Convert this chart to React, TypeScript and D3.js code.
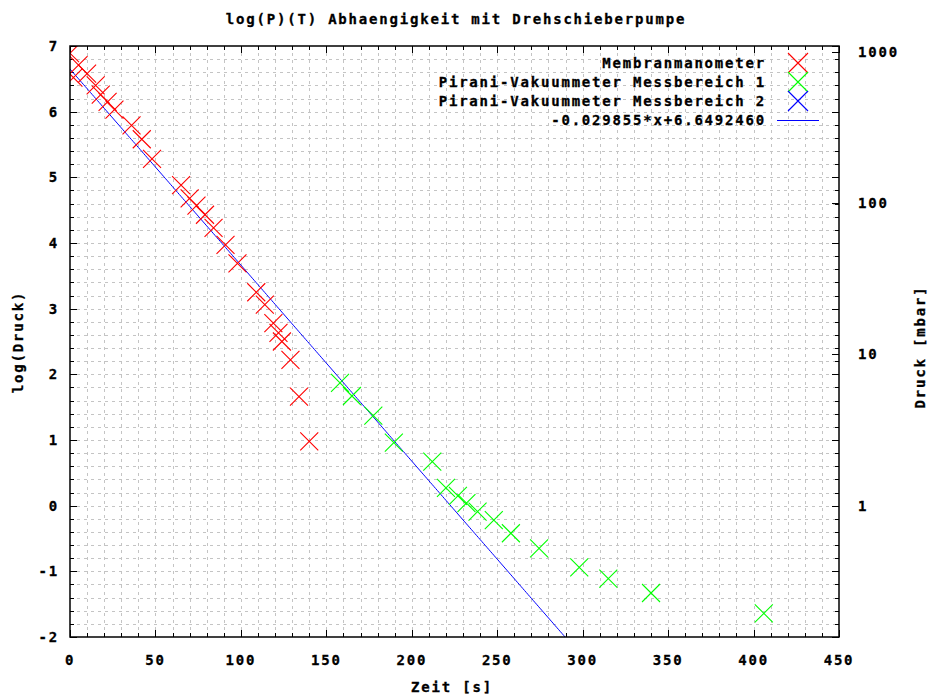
import React from "react";
import * as d3 from "d3";

const title = "log(P)(T) Abhaengigkeit mit Drehschieberpumpe";
const xLabel = "Zeit [s]";
const yLabel = "log(Druck)";
const y2Label = "Druck [mbar]";

const membranT = [0, 2, 5, 10, 15, 18, 22, 26, 36, 42, 48, 65, 70, 74, 79, 84, 91, 98, 109, 114, 119, 122, 124, 129, 134, 140];
const membranLogP = [6.89, 6.52, 6.71, 6.58, 6.4, 6.26, 6.15, 6.03, 5.79, 5.58, 5.28, 4.88, 4.68, 4.57, 4.43, 4.23, 3.97, 3.69, 3.25, 3.06, 2.78, 2.63, 2.5, 2.22, 1.66, 0.98];

const pirani1T = [158, 165, 177.5, 189.5, 212, 220, 227, 232, 238.5, 248, 258, 274.5, 298, 315, 340, 406];
const pirani1LogP = [1.87, 1.67, 1.37, 0.96, 0.67, 0.27, 0.15, 0.04, -0.09, -0.22, -0.42, -0.65, -0.94, -1.11, -1.33, -1.64];

const fitSlope = -0.029855;
const fitIntercept = 6.649246;
const fitLabel = "-0.029855*x+6.6492460";

const legendLabels = ["Membranmanometer", "Pirani-Vakuummeter Messbereich 1", "Pirani-Vakuummeter Messbereich 2", fitLabel];
const legendColors = ["#ff0000", "#00ff00", "#0000ff", "#0000ff"];

const xTicks = [0, 50, 100, 150, 200, 250, 300, 350, 400, 450];
const yTicks = [-2, -1, 0, 1, 2, 3, 4, 5, 6, 7];
const y2Ticks = [1, 10, 100, 1000];

const W = 932, H = 697;
const L = 70, R = 839, T = 46, B = 637;
const FONT = "'DejaVu Sans Mono', monospace";

export default function App() {
  const x = d3.scaleLinear().domain([0, 450]).range([L, R]);
  const y = d3.scaleLinear().domain([-2, 7]).range([B, T]);

  const xGrid = d3.range(10, 450, 10);
  const yGrid = d3.range(-1.8, 7, 0.2);
  const xMinor = d3.range(0, 451, 10);
  const yMinor = d3.range(-2, 7.001, 0.2);

  const xEnd = (-2 - fitIntercept) / fitSlope;
  const fitPts: [number, number][] = d3.range(0, xEnd, 1).map((t) => [t, fitSlope * t + fitIntercept]);
  fitPts.push([xEnd, -2]);
  const line = d3.line<[number, number]>().x((d) => x(d[0])).y((d) => y(d[1]));

  const cross = (cx: number, cy: number, color: string, key: string, s = 9) => (
    <path key={key} d={`M${cx - s},${cy - s}L${cx + s},${cy + s}M${cx - s},${cy + s}L${cx + s},${cy - s}`} stroke={color} strokeWidth={1.1} fill="none" />
  );

  const textStyle = { fontFamily: FONT, fontWeight: 700, fontSize: 14, letterSpacing: 1.8 } as const;

  return (
    <svg width={W} height={H} style={{ position: "absolute", left: 0, top: 0, background: "#fff" }}>
      <rect width={W} height={H} fill="#fff" />
      <defs>
        <clipPath id="plotclip">
          <rect x={L} y={T} width={R - L} height={B - T} />
        </clipPath>
      </defs>
      {/* grid */}
      <g stroke="#c4c4c4" strokeWidth={1} strokeDasharray="3,4">
        {xGrid.map((v) => (
          <line key={"gx" + v} x1={Math.round(x(v)) + 0.5} x2={Math.round(x(v)) + 0.5} y1={T} y2={B} />
        ))}
        {yGrid.map((v, i) => (
          <line key={"gy" + i} x1={L} x2={R} y1={Math.round(y(v)) + 0.5} y2={Math.round(y(v)) + 0.5} />
        ))}
      </g>
      {/* ticks */}
      <g stroke="#000" strokeWidth={1}>
        {xMinor.map((v) => {
          const major = v % 50 === 0;
          const len = major ? 7 : 4;
          const px = Math.round(x(v)) + 0.5;
          return (
            <g key={"xt" + v}>
              <line x1={px} x2={px} y1={B} y2={B - len} />
              <line x1={px} x2={px} y1={T} y2={T + len} />
            </g>
          );
        })}
        {yMinor.map((v, i) => {
          const major = i % 5 === 0;
          const len = major ? 7 : 4;
          const py = Math.round(y(v)) + 0.5;
          return (
            <g key={"yt" + i}>
              <line x1={L} x2={L + len} y1={py} y2={py} />
              <line x1={R} x2={R - len} y1={py} y2={py} />
            </g>
          );
        })}
        {y2Ticks.map((v) => {
          const py = Math.round(y(Math.log(v))) + 0.5;
          return <line key={"y2t" + v} x1={R} x2={R - 7} y1={py} y2={py} />;
        })}
      </g>
      {/* data */}
      <g clipPath="url(#plotclip)">
        <path d={line(fitPts) || ""} stroke="#0000ff" strokeWidth={1} fill="none" />
        {membranT.map((t, i) => cross(x(t), y(membranLogP[i]), "#ff0000", "m" + i))}
        {pirani1T.map((t, i) => cross(x(t), y(pirani1LogP[i]), "#00ff00", "p" + i))}
      </g>
      {/* frame */}
      <rect x={L} y={T} width={R - L} height={B - T} fill="none" stroke="#000" strokeWidth={1.5} />
      {/* tick labels */}
      <g style={textStyle} fill="#000" stroke="#000" strokeWidth={0.3}>
        {xTicks.map((v) => (
          <text key={"xl" + v} x={x(v)} y={665} textAnchor="middle">{v}</text>
        ))}
        {yTicks.map((v) => (
          <text key={"yl" + v} x={59} y={y(v) + 5} textAnchor="end">{v}</text>
        ))}
        {y2Ticks.map((v) => (
          <text key={"y2l" + v} x={858} y={y(Math.log(v)) + 5} textAnchor="start">{v}</text>
        ))}
        <text x={456} y={24} textAnchor="middle">{title}</text>
        <text x={452} y={692} textAnchor="middle">{xLabel}</text>
        <text transform={`translate(23,342) rotate(-90)`} textAnchor="middle">{yLabel}</text>
        <text transform={`translate(925,347) rotate(-90)`} textAnchor="middle">{y2Label}</text>
        {legendLabels.map((lab, i) => (
          <text key={"lg" + i} x={766} y={68 + i * 19} textAnchor="end">{lab}</text>
        ))}
      </g>
      {/* legend samples */}
      {legendLabels.map((lab, i) => {
        const cy = 63 + i * 19;
        return i < 3 ? cross(798, cy, legendColors[i], "ls" + i, 10) : (
          <line key={"ls" + i} x1={777} x2={819} y1={cy + 0.5} y2={cy + 0.5} stroke={legendColors[i]} strokeWidth={1} />
        );
      })}
    </svg>
  );
}
